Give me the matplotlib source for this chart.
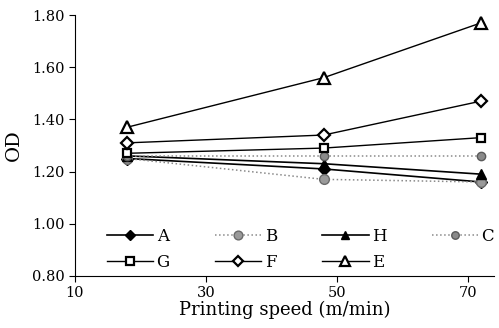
import numpy as np
import matplotlib
matplotlib.use('Agg')
import matplotlib.pyplot as plt

# Printing speed (m/min) and optical density per sample
speed = [18, 48, 72]
OD_A = [1.25, 1.21, 1.16]
OD_B = [1.25, 1.17, 1.16]
OD_H = [1.26, 1.23, 1.19]
OD_C = [1.26, 1.26, 1.26]
OD_G = [1.27, 1.29, 1.33]
OD_F = [1.31, 1.34, 1.47]
OD_E = [1.37, 1.56, 1.77]

plt.rcParams['font.family'] = ['DejaVu Serif']

fig, ax = plt.subplots(figsize=(4.99, 3.28), dpi=100)
plt.subplots_adjust(left=0.150, right=0.99, bottom=0.159, top=0.954)

lA, = ax.plot(speed, OD_A, label='A', color='k', linewidth=1.2, marker='D', markersize=6,
              markerfacecolor='k', markeredgecolor='k')
lB, = ax.plot(speed, OD_B, label='B', color='#8a8a8a', linewidth=1.1, linestyle=':', marker='o',
              markersize=7, markerfacecolor='#9a9a9a', markeredgecolor='#6a6a6a')
lH, = ax.plot(speed, OD_H, label='H', color='k', linewidth=1.2, marker='^', markersize=7,
              markerfacecolor='k', markeredgecolor='k')
lC, = ax.plot(speed, OD_C, label='C', color='#8a8a8a', linewidth=1.1, linestyle=':', marker='o',
              markersize=6, markerfacecolor='#8a8a8a', markeredgecolor='#5a5a5a')
lG, = ax.plot(speed, OD_G, label='G', color='k', linewidth=1.0, marker='s', markersize=6,
              markerfacecolor='white', markeredgecolor='k', markeredgewidth=1.6)
lF, = ax.plot(speed, OD_F, label='F', color='k', linewidth=1.0, marker='D', markersize=6,
              markerfacecolor='white', markeredgecolor='k', markeredgewidth=1.6)
lE, = ax.plot(speed, OD_E, label='E', color='k', linewidth=1.0, marker='^', markersize=8,
              markerfacecolor='white', markeredgecolor='k', markeredgewidth=1.6)

ax.set_xlim(10, 74)
ax.set_ylim(0.80, 1.80)
ax.set_xticks([10, 30, 50, 70])
ax.set_yticks([0.80, 1.00, 1.20, 1.40, 1.60, 1.80])
ax.set_yticklabels(['0.80', '1.00', '1.20', '1.40', '1.60', '1.80'])
ax.spines['top'].set_visible(False)
ax.spines['right'].set_visible(False)
ax.tick_params(direction='out', length=4, labelsize=10.5)
ax.set_xlabel('Printing speed (m/min)', fontsize=13, labelpad=0)
ax.set_ylabel('OD', fontsize=14, labelpad=6)

# order so rows read A B H C / G F E
handles = [lA, lG, lB, lF, lH, lE, lC]
ax.legend(handles, [h.get_label() for h in handles], loc='lower left', ncol=4,
          frameon=False, fontsize=12, handlelength=2.8, handletextpad=0.2,
          columnspacing=2.7, labelspacing=0.55, markerscale=0.9,
          bbox_to_anchor=(0.04, -0.04))

plt.savefig('out.png', dpi=100)
